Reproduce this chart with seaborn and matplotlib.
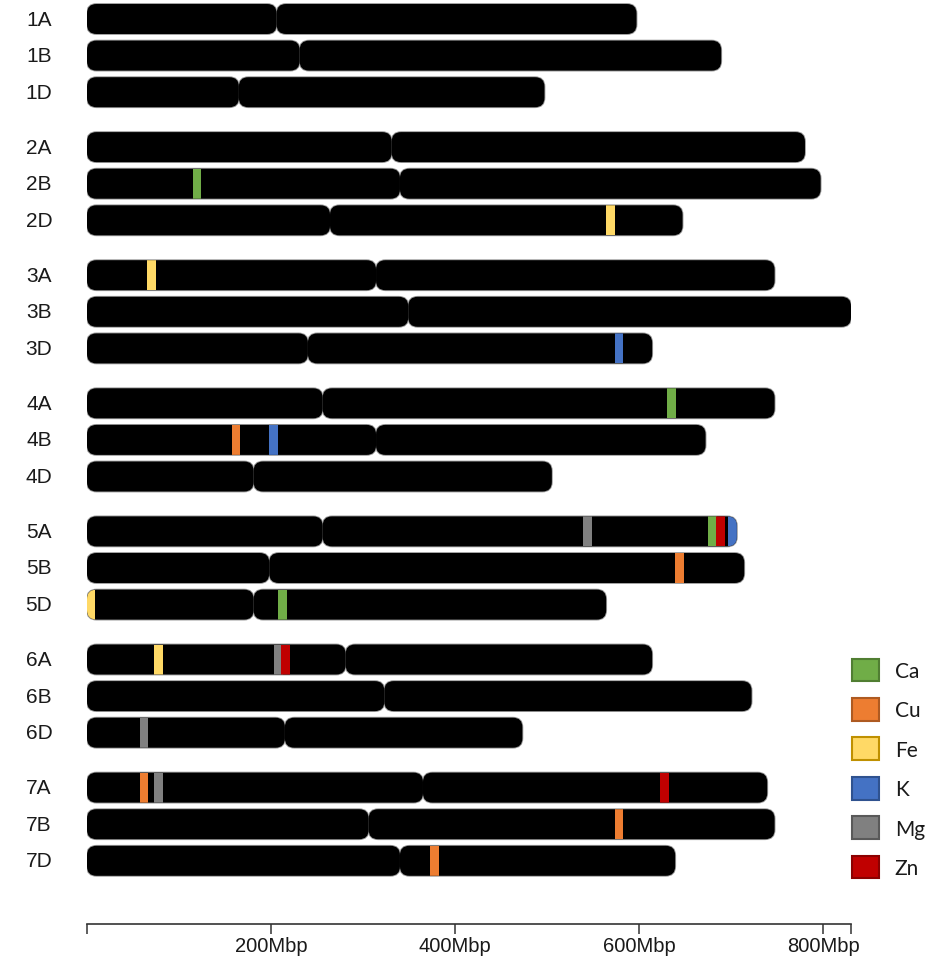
import matplotlib
matplotlib.use("Agg")
import matplotlib.pyplot as plt
from matplotlib.patches import FancyBboxPatch, Rectangle, Patch
from matplotlib.transforms import blended_transform_factory
import seaborn as sns

# Chromosome sizes and centromere positions (Mbp)
chromosomes = ["1A", "1B", "1D", "2A", "2B", "2D", "3A", "3B", "3D",
               "4A", "4B", "4D", "5A", "5B", "5D", "6A", "6B", "6D",
               "7A", "7B", "7D"]
lengths_mbp = [597, 689, 497, 780, 797, 647, 747, 830, 614,
               747, 672, 505, 706, 714, 564, 614, 722, 473,
               739, 747, 639]
centromeres_mbp = [206, 231, 165, 331, 340, 264, 314, 349, 240,
                   256, 314, 181, 256, 198, 181, 281, 323, 215,
                   365, 306, 340]

# Marker loci (Mbp) and the element each one is associated with
marker_chrom = ["2B", "2D", "3A", "3D", "4A", "4B", "4B", "5A", "5A", "5A", "5A",
                "5B", "5D", "5D", "6A", "6A", "6A", "6D", "7A", "7A", "7A",
                "7B", "7D"]
marker_pos_mbp = [119.5, 569, 70, 578, 635, 162, 203, 544, 679.5, 688, 701,
                  644, 4, 212, 78, 208, 216, 62, 62, 78, 627,
                  578, 377.5]
marker_element = ["Ca", "Fe", "Fe", "K", "Ca", "Cu", "K", "Mg", "Ca", "Zn", "K",
                  "Cu", "Fe", "Ca", "Fe", "Mg", "Zn", "Mg", "Cu", "Mg", "Zn",
                  "Cu", "Cu"]

elements = ["Ca", "Cu", "Fe", "K", "Mg", "Zn"]
element_fill = ["#70AD47", "#ED7D31", "#FFD966", "#4472C4", "#808080", "#C00000"]
element_edge = ["#507E32", "#AE5A21", "#BF9000", "#2F528F", "#595959", "#8B0000"]

tick_values = [0, 200, 400, 600, 800]
tick_labels = ["", "200Mbp", "400Mbp", "600Mbp", "800Mbp"]

sns.set_theme(style="ticks")
plt.rcParams["font.family"] = ["Liberation Sans", "DejaVu Sans"]

W, H = 941, 962
fig = plt.figure(figsize=(W / 100, H / 100), dpi=100)
fig.patch.set_facecolor("white")

x_left_px, x_right_px, axis_y_px = 87, 851, 925
ax = fig.add_axes([x_left_px / W, (H - axis_y_px) / H,
                   (x_right_px - x_left_px) / W, axis_y_px / H])

max_len = max(lengths_mbp)
row_px = 36.6
y_top = -20 / row_px
y_bottom = (axis_y_px - 20) / row_px
ax.set_xlim(0, max_len)
ax.set_ylim(y_bottom, y_top)

px_per_x = (x_right_px - x_left_px) / max_len
px_per_y = row_px
aspect = px_per_x / px_per_y
radius = 9.5 / px_per_x
bar_h = 30 / row_px


def row_of(name):
    return (int(name[0]) - 1) * 3.5 + "ABD".index(name[1])


fill_color = dict(zip(elements, element_fill))
arms = {}
box = dict(boxstyle=f"round,pad=0,rounding_size={radius}", mutation_aspect=aspect)
for name, length, cen in zip(chromosomes, lengths_mbp, centromeres_mbp):
    y = row_of(name)
    arms[name] = []
    # thin grey rim, then the black arms on top of it
    for x0, x1 in [(0, cen), (cen, length)]:
        ax.add_patch(FancyBboxPatch((x0, y - bar_h / 2), x1 - x0, bar_h,
                                    fc="none", ec="#9a9a9a", lw=1.3, zorder=2, **box))
    for x0, x1 in [(0, cen), (cen, length)]:
        body = FancyBboxPatch((x0, y - bar_h / 2), x1 - x0, bar_h,
                              fc="black", ec="none", lw=0, zorder=3, **box)
        ax.add_patch(body)
        arms[name].append(body)

marker_w = 9.5
for name, pos, elem in zip(marker_chrom, marker_pos_mbp, marker_element):
    y = row_of(name)
    cen = centromeres_mbp[chromosomes.index(name)]
    body = arms[name][0] if pos < cen else arms[name][1]
    rect = Rectangle((pos - marker_w / 2, y - bar_h / 2), marker_w, bar_h,
                     fc=fill_color[elem], ec="none", zorder=4)
    ax.add_patch(rect)
    rect.set_clip_path(body)

# Chromosome names on the left
lab_tr = blended_transform_factory(ax.transAxes, ax.transData)
for name in chromosomes:
    ax.text((39 - x_left_px) / (x_right_px - x_left_px), row_of(name), name,
            transform=lab_tr, ha="center", va="center", fontsize=15,
            color="#1a1a1a", clip_on=False)

# Position axis
sns.despine(ax=ax, left=True, top=True, right=True)
ax.set_yticks([])
ax.set_xticks(tick_values + [max_len])
ax.set_xticklabels(tick_labels + [""])
ax.spines["bottom"].set_bounds(0, max_len)
ax.spines["bottom"].set_linewidth(1.2)
ax.spines["bottom"].set_color("#333333")
ax.tick_params(axis="x", direction="out", length=7, width=1.1, color="#333333",
               labelsize=14.5, labelcolor="#1a1a1a", pad=2)
ax.set_facecolor("white")

# Element legend
handles = [Patch(facecolor=f, edgecolor=e, linewidth=1.5, label=el)
           for el, f, e in zip(elements, element_fill, element_edge)]
leg = fig.legend(handles=handles, loc="center left",
                 bbox_to_anchor=(852 / W, 1 - 769.5 / H),
                 frameon=False, borderpad=0, handlelength=1.3, handleheight=1.3,
                 labelspacing=0.8, handletextpad=0.75, borderaxespad=0,
                 prop={"family": ["Lato", "DejaVu Sans"], "size": 15})
for t in leg.get_texts():
    t.set_color("#1a1a1a")

fig.savefig("out.png", dpi=100, facecolor="white")
